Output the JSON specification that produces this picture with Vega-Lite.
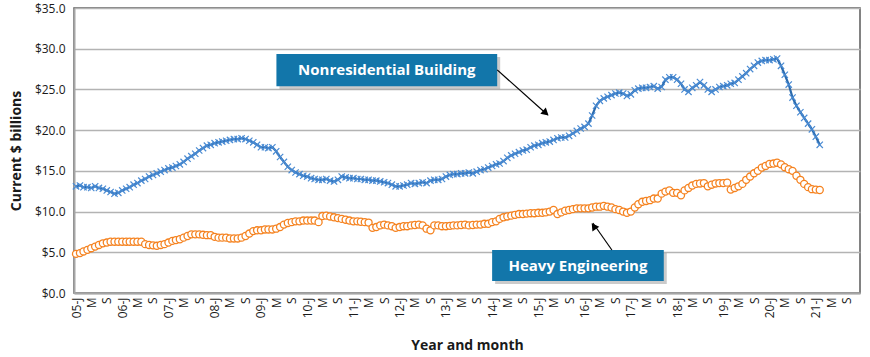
{
  "$schema": "https://vega.github.io/schema/vega-lite/v6.json",
  "width": 786,
  "height": 285,
  "autosize": "none",
  "padding": {"left": 74, "top": 8, "right": 10, "bottom": 64},
  "background": "white",
  "config": {"view": {"stroke": "#595959", "strokeWidth": 1.5}, "font": "Open Sans"},
  "datasets": {
    "series": [
      {"d":"2005-01-01","nb":13.1,"he":4.8},{"d":"2005-02-01","nb":13.2,"he":4.9},{"d":"2005-03-01","nb":13.0,"he":5.1},{"d":"2005-04-01","nb":13.0,"he":5.3},{"d":"2005-05-01","nb":12.9,"he":5.5},{"d":"2005-06-01","nb":13.1,"he":5.7},{"d":"2005-07-01","nb":12.9,"he":5.9},{"d":"2005-08-01","nb":12.8,"he":6.1},{"d":"2005-09-01","nb":12.6,"he":6.2},{"d":"2005-10-01","nb":12.4,"he":6.3},{"d":"2005-11-01","nb":12.2,"he":6.3},{"d":"2005-12-01","nb":12.3,"he":6.3},
      {"d":"2006-01-01","nb":12.6,"he":6.3},{"d":"2006-02-01","nb":12.8,"he":6.3},{"d":"2006-03-01","nb":13.0,"he":6.3},{"d":"2006-04-01","nb":13.3,"he":6.3},{"d":"2006-05-01","nb":13.5,"he":6.3},{"d":"2006-06-01","nb":13.8,"he":6.3},{"d":"2006-07-01","nb":14.0,"he":6.0},{"d":"2006-08-01","nb":14.3,"he":5.9},{"d":"2006-09-01","nb":14.5,"he":5.85},{"d":"2006-10-01","nb":14.7,"he":5.8},{"d":"2006-11-01","nb":14.9,"he":5.9},{"d":"2006-12-01","nb":15.1,"he":6.0},
      {"d":"2007-01-01","nb":15.3,"he":6.2},{"d":"2007-02-01","nb":15.4,"he":6.4},{"d":"2007-03-01","nb":15.6,"he":6.5},{"d":"2007-04-01","nb":15.8,"he":6.6},{"d":"2007-05-01","nb":16.1,"he":6.8},{"d":"2007-06-01","nb":16.5,"he":7.0},{"d":"2007-07-01","nb":16.8,"he":7.2},{"d":"2007-08-01","nb":17.1,"he":7.2},{"d":"2007-09-01","nb":17.5,"he":7.2},{"d":"2007-10-01","nb":17.8,"he":7.15},{"d":"2007-11-01","nb":18.1,"he":7.1},{"d":"2007-12-01","nb":18.2,"he":7.1},
      {"d":"2008-01-01","nb":18.4,"he":6.9},{"d":"2008-02-01","nb":18.5,"he":6.8},{"d":"2008-03-01","nb":18.6,"he":6.8},{"d":"2008-04-01","nb":18.7,"he":6.8},{"d":"2008-05-01","nb":18.8,"he":6.7},{"d":"2008-06-01","nb":18.9,"he":6.7},{"d":"2008-07-01","nb":18.9,"he":6.7},{"d":"2008-08-01","nb":19.0,"he":6.8},{"d":"2008-09-01","nb":18.9,"he":7.0},{"d":"2008-10-01","nb":18.7,"he":7.3},{"d":"2008-11-01","nb":18.5,"he":7.6},{"d":"2008-12-01","nb":18.2,"he":7.7},
      {"d":"2009-01-01","nb":17.9,"he":7.7},{"d":"2009-02-01","nb":17.9,"he":7.8},{"d":"2009-03-01","nb":17.8,"he":7.8},{"d":"2009-04-01","nb":17.9,"he":7.8},{"d":"2009-05-01","nb":17.4,"he":7.9},{"d":"2009-06-01","nb":16.7,"he":8.1},{"d":"2009-07-01","nb":16.1,"he":8.4},{"d":"2009-08-01","nb":15.5,"he":8.6},{"d":"2009-09-01","nb":15.1,"he":8.7},{"d":"2009-10-01","nb":14.8,"he":8.8},{"d":"2009-11-01","nb":14.6,"he":8.8},{"d":"2009-12-01","nb":14.4,"he":8.9},
      {"d":"2010-01-01","nb":14.3,"he":8.9},{"d":"2010-02-01","nb":14.1,"he":8.9},{"d":"2010-03-01","nb":14.0,"he":8.9},{"d":"2010-04-01","nb":13.9,"he":8.7},{"d":"2010-05-01","nb":13.9,"he":9.45},{"d":"2010-06-01","nb":14.0,"he":9.5},{"d":"2010-07-01","nb":13.8,"he":9.4},{"d":"2010-08-01","nb":13.7,"he":9.3},{"d":"2010-09-01","nb":13.9,"he":9.2},{"d":"2010-10-01","nb":14.3,"he":9.1},{"d":"2010-11-01","nb":14.2,"he":9.0},{"d":"2010-12-01","nb":14.1,"he":8.9},
      {"d":"2011-01-01","nb":14.1,"he":8.8},{"d":"2011-02-01","nb":14.0,"he":8.8},{"d":"2011-03-01","nb":14.0,"he":8.75},{"d":"2011-04-01","nb":13.9,"he":8.7},{"d":"2011-05-01","nb":13.9,"he":8.65},{"d":"2011-06-01","nb":13.8,"he":8.0},{"d":"2011-07-01","nb":13.8,"he":8.1},{"d":"2011-08-01","nb":13.7,"he":8.3},{"d":"2011-09-01","nb":13.6,"he":8.4},{"d":"2011-10-01","nb":13.5,"he":8.3},{"d":"2011-11-01","nb":13.3,"he":8.2},{"d":"2011-12-01","nb":13.1,"he":8.0},
      {"d":"2012-01-01","nb":13.1,"he":8.1},{"d":"2012-02-01","nb":13.2,"he":8.2},{"d":"2012-03-01","nb":13.3,"he":8.2},{"d":"2012-04-01","nb":13.5,"he":8.3},{"d":"2012-05-01","nb":13.4,"he":8.35},{"d":"2012-06-01","nb":13.5,"he":8.4},{"d":"2012-07-01","nb":13.6,"he":8.3},{"d":"2012-08-01","nb":13.5,"he":7.9},{"d":"2012-09-01","nb":13.8,"he":7.7},{"d":"2012-10-01","nb":13.9,"he":8.3},{"d":"2012-11-01","nb":13.9,"he":8.3},{"d":"2012-12-01","nb":14.0,"he":8.2},
      {"d":"2013-01-01","nb":14.3,"he":8.2},{"d":"2013-02-01","nb":14.5,"he":8.25},{"d":"2013-03-01","nb":14.6,"he":8.3},{"d":"2013-04-01","nb":14.6,"he":8.3},{"d":"2013-05-01","nb":14.7,"he":8.35},{"d":"2013-06-01","nb":14.7,"he":8.4},{"d":"2013-07-01","nb":14.8,"he":8.3},{"d":"2013-08-01","nb":14.7,"he":8.35},{"d":"2013-09-01","nb":14.9,"he":8.4},{"d":"2013-10-01","nb":15.1,"he":8.4},{"d":"2013-11-01","nb":15.2,"he":8.5},{"d":"2013-12-01","nb":15.4,"he":8.5},
      {"d":"2014-01-01","nb":15.6,"he":8.7},{"d":"2014-02-01","nb":15.8,"he":8.8},{"d":"2014-03-01","nb":15.9,"he":9.1},{"d":"2014-04-01","nb":16.2,"he":9.3},{"d":"2014-05-01","nb":16.6,"he":9.4},{"d":"2014-06-01","nb":16.9,"he":9.5},{"d":"2014-07-01","nb":17.1,"he":9.6},{"d":"2014-08-01","nb":17.3,"he":9.7},{"d":"2014-09-01","nb":17.5,"he":9.7},{"d":"2014-10-01","nb":17.6,"he":9.75},{"d":"2014-11-01","nb":17.9,"he":9.8},{"d":"2014-12-01","nb":18.1,"he":9.8},
      {"d":"2015-01-01","nb":18.2,"he":9.85},{"d":"2015-02-01","nb":18.4,"he":9.85},{"d":"2015-03-01","nb":18.5,"he":9.9},{"d":"2015-04-01","nb":18.6,"he":10.0},{"d":"2015-05-01","nb":18.8,"he":10.2},{"d":"2015-06-01","nb":19.0,"he":9.7},{"d":"2015-07-01","nb":19.1,"he":9.9},{"d":"2015-08-01","nb":19.1,"he":10.1},{"d":"2015-09-01","nb":19.3,"he":10.2},{"d":"2015-10-01","nb":19.6,"he":10.3},{"d":"2015-11-01","nb":19.9,"he":10.4},{"d":"2015-12-01","nb":20.2,"he":10.4},
      {"d":"2016-01-01","nb":20.4,"he":10.4},{"d":"2016-02-01","nb":20.8,"he":10.4},{"d":"2016-03-01","nb":21.8,"he":10.5},{"d":"2016-04-01","nb":23.0,"he":10.6},{"d":"2016-05-01","nb":23.6,"he":10.6},{"d":"2016-06-01","nb":23.9,"he":10.7},{"d":"2016-07-01","nb":24.1,"he":10.6},{"d":"2016-08-01","nb":24.3,"he":10.5},{"d":"2016-09-01","nb":24.5,"he":10.3},{"d":"2016-10-01","nb":24.6,"he":10.2},{"d":"2016-11-01","nb":24.5,"he":10.0},{"d":"2016-12-01","nb":24.2,"he":9.85},
      {"d":"2017-01-01","nb":24.4,"he":10.0},{"d":"2017-02-01","nb":24.9,"he":10.5},{"d":"2017-03-01","nb":25.1,"he":10.9},{"d":"2017-04-01","nb":25.2,"he":11.2},{"d":"2017-05-01","nb":25.2,"he":11.3},{"d":"2017-06-01","nb":25.3,"he":11.4},{"d":"2017-07-01","nb":25.4,"he":11.6},{"d":"2017-08-01","nb":25.1,"he":11.6},{"d":"2017-09-01","nb":25.3,"he":12.2},{"d":"2017-10-01","nb":26.2,"he":12.45},{"d":"2017-11-01","nb":26.5,"he":12.6},{"d":"2017-12-01","nb":26.5,"he":12.3},
      {"d":"2018-01-01","nb":26.2,"he":12.3},{"d":"2018-02-01","nb":25.7,"he":12.0},{"d":"2018-03-01","nb":25.0,"he":12.6},{"d":"2018-04-01","nb":24.7,"he":12.9},{"d":"2018-05-01","nb":25.2,"he":13.2},{"d":"2018-06-01","nb":25.5,"he":13.4},{"d":"2018-07-01","nb":25.9,"he":13.45},{"d":"2018-08-01","nb":25.5,"he":13.5},{"d":"2018-09-01","nb":25.0,"he":13.1},{"d":"2018-10-01","nb":24.7,"he":13.3},{"d":"2018-11-01","nb":25.0,"he":13.45},{"d":"2018-12-01","nb":25.3,"he":13.5},
      {"d":"2019-01-01","nb":25.4,"he":13.5},{"d":"2019-02-01","nb":25.5,"he":13.55},{"d":"2019-03-01","nb":25.7,"he":12.7},{"d":"2019-04-01","nb":25.8,"he":12.9},{"d":"2019-05-01","nb":26.2,"he":13.1},{"d":"2019-06-01","nb":26.6,"he":13.4},{"d":"2019-07-01","nb":27.0,"he":13.9},{"d":"2019-08-01","nb":27.5,"he":14.3},{"d":"2019-09-01","nb":27.9,"he":14.7},{"d":"2019-10-01","nb":28.3,"he":15.0},{"d":"2019-11-01","nb":28.5,"he":15.4},{"d":"2019-12-01","nb":28.6,"he":15.6},
      {"d":"2020-01-01","nb":28.6,"he":15.85},{"d":"2020-02-01","nb":28.7,"he":15.9},{"d":"2020-03-01","nb":28.8,"he":16.0},{"d":"2020-04-01","nb":27.9,"he":15.8},{"d":"2020-05-01","nb":26.8,"he":15.45},{"d":"2020-06-01","nb":25.6,"he":15.2},{"d":"2020-07-01","nb":24.0,"he":15.0},{"d":"2020-08-01","nb":23.0,"he":14.4},{"d":"2020-09-01","nb":22.2,"he":13.9},{"d":"2020-10-01","nb":21.5,"he":13.4},{"d":"2020-11-01","nb":20.8,"he":13.0},{"d":"2020-12-01","nb":20.1,"he":12.75},
      {"d":"2021-01-01","nb":19.2,"he":12.7},{"d":"2021-02-01","nb":18.2,"he":12.65}
    ],
    "boxes": [
      {"x":"2009-05-03","x2":"2014-02-10","y":29.35,"y2":25.4,"t":"Nonresidential Building","tx":"2011-09-22","ty":27.4},
      {"x":"2014-01-01","x2":"2017-09-18","y":5.28,"y2":1.47,"t":"Heavy Engineering","tx":"2015-11-10","ty":3.3}
    ],
    "arrows": [
      {"x":"2014-02-10","y":27.4,"x2":"2015-03-16","y2":21.86},
      {"x":"2016-08-04","y":5.28,"x2":"2016-03-07","y2":8.6}
    ]
  },
  "layer": [
    {
      "data": {"name": "series"},
      "mark": {"type": "line", "color": "#2a6aad", "strokeWidth": 2.2},
      "encoding": {
        "x": {
          "field": "d", "type": "temporal",
          "scale": {"type": "utc", "domain": [{"year": 2004, "month": 12, "date": 16, "utc": true}, {"year": 2021, "month": 12, "date": 16, "utc": true}]},
          "axis": {
            "title": "Year and month",
            "tickCount": {"interval": "month", "step": 4},
            "labelExpr": "utcFormat(datum.value,'%m')=='01' ? utcFormat(datum.value,'%y')+'-J' : (utcFormat(datum.value,'%m')=='05' ? 'M' : 'S')",
            "labelAngle": 270, "labelAlign": "right", "labelBaseline": "middle",
            "labelFontSize": 12, "labelColor": "#1a1a1a", "labelPadding": 4,
            "labelOverlap": false, "labelFlush": false, "labelBound": false,
            "ticks": false, "grid": false,
            "domainColor": "#a6a6a6", "domainWidth": 2,
            "titleFontSize": 14, "titleFontWeight": "bold", "titleColor": "#1a1a1a", "titlePadding": 21
          }
        },
        "y": {
          "field": "nb", "type": "quantitative",
          "scale": {"domain": [0, 35], "nice": false, "zero": true},
          "axis": {
            "title": "Current $ billions",
            "values": [0, 5, 10, 15, 20, 25, 30, 35],
            "format": "$.1f",
            "labelFontSize": 12, "labelColor": "#1a1a1a", "labelPadding": 9,
            "ticks": false,
            "gridColor": "#b3b3b3", "gridWidth": 1.5,
            "domainColor": "#a6a6a6", "domainWidth": 2,
            "titleFontSize": 14, "titleFontWeight": "bold", "titleColor": "#1a1a1a", "titlePadding": 11
          }
        }
      }
    },
    {
      "data": {"name": "series"},
      "mark": {"type": "point", "shape": "M-1,-1L1,1M1,-1L-1,1", "size": 40, "filled": false, "stroke": "#4a8bd3", "strokeWidth": 1.2, "opacity": 1},
      "encoding": {
        "x": {"field": "d", "type": "temporal"},
        "y": {"field": "nb", "type": "quantitative"}
      }
    },
    {
      "data": {"name": "series"},
      "mark": {"type": "point", "shape": "circle", "size": 50, "filled": false, "fill": "white", "fillOpacity": 1, "stroke": "#f5821f", "strokeWidth": 1.3, "opacity": 1},
      "encoding": {
        "x": {"field": "d", "type": "temporal"},
        "y": {"field": "he", "type": "quantitative"}
      }
    },
    {
      "data": {"name": "boxes"},
      "mark": {"type": "rect", "color": "#8c8c8c", "opacity": 0.45, "xOffset": 3, "x2Offset": 3, "yOffset": 3, "y2Offset": 3},
      "encoding": {
        "x": {"field": "x", "type": "temporal"},
        "x2": {"field": "x2"},
        "y": {"field": "y", "type": "quantitative"},
        "y2": {"field": "y2"}
      }
    },
    {
      "data": {"name": "boxes"},
      "mark": {"type": "rect", "color": "#1276aa", "opacity": 1},
      "encoding": {
        "x": {"field": "x", "type": "temporal"},
        "x2": {"field": "x2"},
        "y": {"field": "y", "type": "quantitative"},
        "y2": {"field": "y2"}
      }
    },
    {
      "data": {"name": "boxes"},
      "mark": {"type": "text", "color": "white", "font": "Open Sans", "fontSize": 15, "fontWeight": "bold", "align": "center", "baseline": "middle"},
      "encoding": {
        "x": {"field": "tx", "type": "temporal"},
        "y": {"field": "ty", "type": "quantitative"},
        "text": {"field": "t"}
      }
    },
    {
      "data": {"name": "arrows"},
      "mark": {"type": "rule", "color": "black", "strokeWidth": 1.2},
      "encoding": {
        "x": {"field": "x", "type": "temporal"},
        "x2": {"field": "x2"},
        "y": {"field": "y", "type": "quantitative"},
        "y2": {"field": "y2"}
      }
    },
    {
      "data": {"values": [{"x": "2015-03-01", "y": 22.1}]},
      "mark": {"type": "point", "shape": "triangle-up", "filled": true, "color": "black", "size": 70, "angle": 131, "opacity": 1},
      "encoding": {
        "x": {"field": "x", "type": "temporal"},
        "y": {"field": "y", "type": "quantitative"}
      }
    },
    {
      "data": {"values": [{"x": "2016-03-14", "y": 8.2}]},
      "mark": {"type": "point", "shape": "triangle-up", "filled": true, "color": "black", "size": 70, "angle": -35, "opacity": 1},
      "encoding": {
        "x": {"field": "x", "type": "temporal"},
        "y": {"field": "y", "type": "quantitative"}
      }
    }
  ]
}
